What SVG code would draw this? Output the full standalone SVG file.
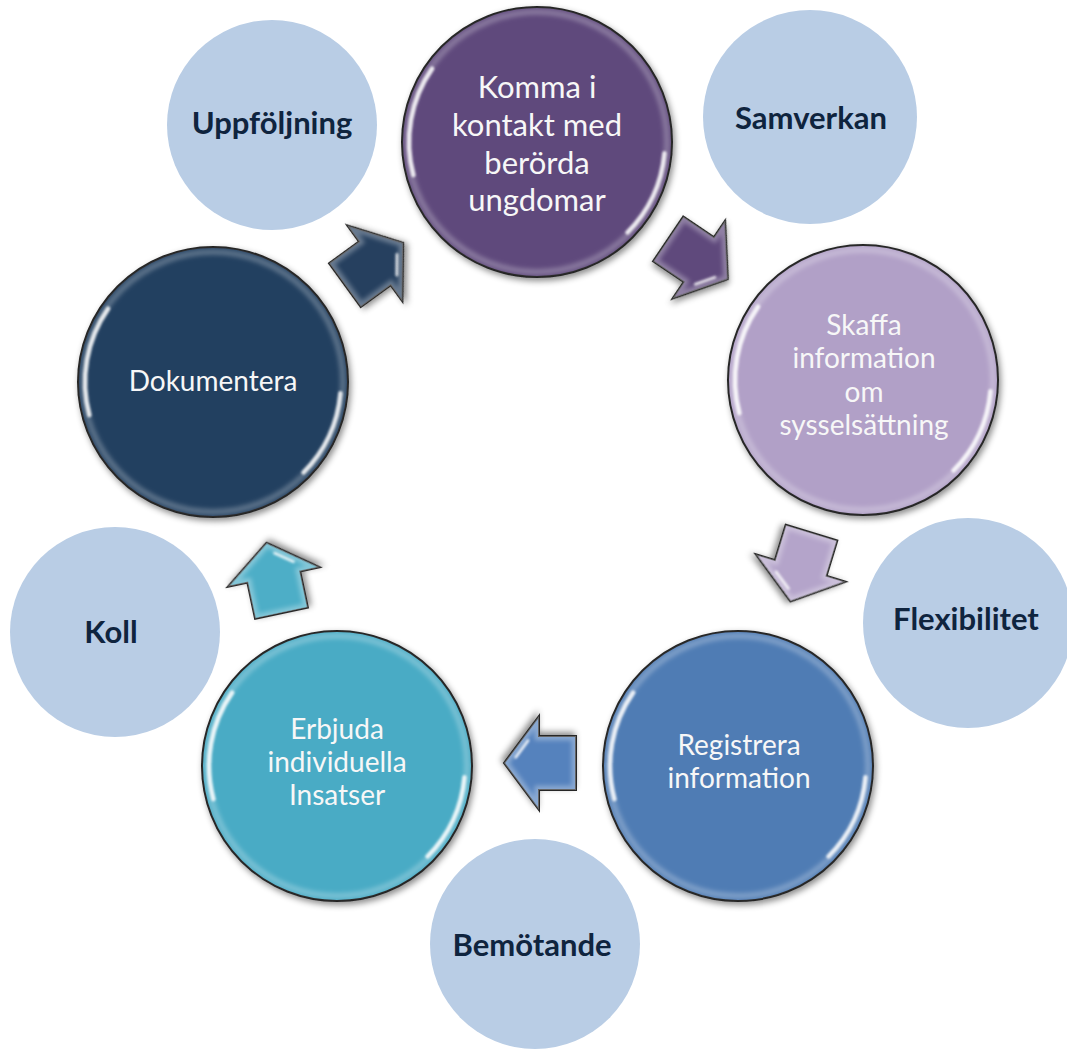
<svg xmlns="http://www.w3.org/2000/svg" xmlns:xlink="http://www.w3.org/1999/xlink" width="1067" height="1050" viewBox="0 0 1067 1050">
  <style>
    .bg { fill: #ffffff; }
    .soft { fill: #b9cde5; }
    .label { font-family: Lato, "Noto Sans", "DejaVu Sans", sans-serif; font-weight: 700; font-size: 31px; fill: #0f243e; text-anchor: middle; }
    .step { font-family: Lato, "Noto Sans", "DejaVu Sans", sans-serif; font-size: 28px; fill: #f7f7f7; text-anchor: middle; }
    .step.big { font-size: 31px; }
    .rim { stroke: #1e1e1e; stroke-width: 2; }
    .arrow-edge { stroke: #262626; stroke-width: 2; stroke-linejoin: miter; }
  </style>
  <defs>
    <filter id="shadow" x="-20%" y="-20%" width="140%" height="140%">
      <feDropShadow dx="2" dy="3" stdDeviation="3" flood-color="#000" flood-opacity="0.45"/>
    </filter>
    <filter id="blur2" x="-20%" y="-20%" width="140%" height="140%">
      <feGaussianBlur stdDeviation="2"/>
    </filter>
    <filter id="blur1" x="-50%" y="-50%" width="200%" height="200%">
      <feGaussianBlur stdDeviation="1.2"/>
    </filter>

    <!-- glossy bevel overlay shared by the five step circles (r = 135) -->
    <g id="bevel">
      <circle r="130" fill="none" stroke="#ffffff" stroke-opacity="0.25" stroke-width="6" filter="url(#blur2)"/>
      <path d="M -123.6 33.1 A 128 128 0 0 1 -104.9 -73.4" fill="none" stroke="#ffffff" stroke-opacity="0.85" stroke-width="4.5" stroke-linecap="round" filter="url(#blur1)"/>
      <path d="M 127.5 11.2 A 128 128 0 0 1 90.5 90.5" fill="none" stroke="#ffffff" stroke-opacity="0.85" stroke-width="4.5" stroke-linecap="round" filter="url(#blur1)"/>
    </g>

    <!-- block arrow pointing along +x, centred on the origin -->
    <polygon id="arrowShape" points="-36,-27 1,-27 1,-47 36,0 1,47 1,27 -36,27"/>
    <clipPath id="arrowClip">
      <use xlink:href="#arrowShape"/>
    </clipPath>
    <g id="arrowGloss">
      <g clip-path="url(#arrowClip)">
        <use xlink:href="#arrowShape" fill="none" stroke="#ffffff" stroke-opacity="0.3" stroke-width="9" filter="url(#blur2)"/>
      </g>
      <line x1="-30" y1="-15" x2="-30" y2="15" stroke="#ffffff" stroke-opacity="0.8" stroke-width="3" stroke-linecap="round" filter="url(#blur1)"/>
      <line x1="12" y1="22.3" x2="24.2" y2="5.8" stroke="#ffffff" stroke-opacity="0.8" stroke-width="3" stroke-linecap="round" filter="url(#blur1)"/>
    </g>
  </defs>

  <rect class="bg" x="0" y="0" width="1067" height="1050"/>

  <!-- value circles -->
  <g id="uppfoljning">
    <circle class="soft" cx="272" cy="125" r="105"/>
    <text class="label" x="272" y="134">Uppföljning</text>
  </g>
  <g id="samverkan">
    <circle class="soft" cx="810" cy="117" r="107"/>
    <text class="label" x="811" y="129">Samverkan</text>
  </g>
  <g id="flexibilitet">
    <circle class="soft" cx="968" cy="623" r="105"/>
    <text class="label" x="966" y="630">Flexibilitet</text>
  </g>
  <g id="bemotande">
    <circle class="soft" cx="535" cy="944" r="105"/>
    <text class="label" x="532" y="956">Bemötande</text>
  </g>
  <g id="koll">
    <circle class="soft" cx="115" cy="632" r="105"/>
    <text class="label" x="111" y="643">Koll</text>
  </g>

  <!-- process steps -->
  <g id="komma-i-kontakt" transform="translate(537,142)">
    <circle class="rim" r="135" fill="#5f4a7b" filter="url(#shadow)"/>
    <use xlink:href="#bevel"/>
    <text class="step big" x="0" y="-44">Komma i</text>
    <text class="step big" x="0" y="-6">kontakt med</text>
    <text class="step big" x="0" y="32">berörda</text>
    <text class="step big" x="0" y="69">ungdomar</text>
  </g>
  <g id="skaffa-information" transform="translate(863,380)">
    <circle class="rim" r="135" fill="#b1a0c7" filter="url(#shadow)"/>
    <use xlink:href="#bevel"/>
    <text class="step" x="1" y="-45">Skaffa</text>
    <text class="step" x="1" y="-12">information</text>
    <text class="step" x="1" y="22">om</text>
    <text class="step" x="1" y="55">sysselsättning</text>
  </g>
  <g id="registrera-information" transform="translate(738,766)">
    <circle class="rim" r="135" fill="#4f7bb4" filter="url(#shadow)"/>
    <use xlink:href="#bevel"/>
    <text class="step" x="1" y="-11">Registrera</text>
    <text class="step" x="1" y="22">information</text>
  </g>
  <g id="erbjuda-insatser" transform="translate(337,766)">
    <circle class="rim" r="135" fill="#4aabc5" filter="url(#shadow)"/>
    <use xlink:href="#bevel"/>
    <text class="step" x="0" y="-27">Erbjuda</text>
    <text class="step" x="0" y="6">individuella</text>
    <text class="step" x="0" y="39">Insatser</text>
  </g>
  <g id="dokumentera" transform="translate(213,382)">
    <circle class="rim" r="135" fill="#243f60" filter="url(#shadow)"/>
    <use xlink:href="#bevel"/>
    <text class="step" x="0" y="9">Dokumentera</text>
  </g>

  <!-- cycle arrows between the steps -->
  <g id="connectors">
    <g transform="translate(698,259) rotate(34)">
      <use xlink:href="#arrowShape" class="arrow-edge" fill="#5f4a7b" filter="url(#shadow)"/>
      <use xlink:href="#arrowGloss"/>
    </g>
    <g transform="translate(801,567) rotate(107)">
      <use xlink:href="#arrowShape" class="arrow-edge" fill="#b4a4ca" filter="url(#shadow)"/>
      <use xlink:href="#arrowGloss"/>
    </g>
    <g transform="translate(540,763) rotate(180)">
      <use xlink:href="#arrowShape" class="arrow-edge" fill="#5582bd" filter="url(#shadow)"/>
      <use xlink:href="#arrowGloss"/>
    </g>
    <g transform="translate(274,578) rotate(-102)">
      <use xlink:href="#arrowShape" class="arrow-edge" fill="#4daec7" filter="url(#shadow)"/>
      <use xlink:href="#arrowGloss"/>
    </g>
    <g transform="translate(374,264) rotate(-36)">
      <use xlink:href="#arrowShape" class="arrow-edge" fill="#25405f" filter="url(#shadow)"/>
      <use xlink:href="#arrowGloss"/>
    </g>
  </g>
</svg>
